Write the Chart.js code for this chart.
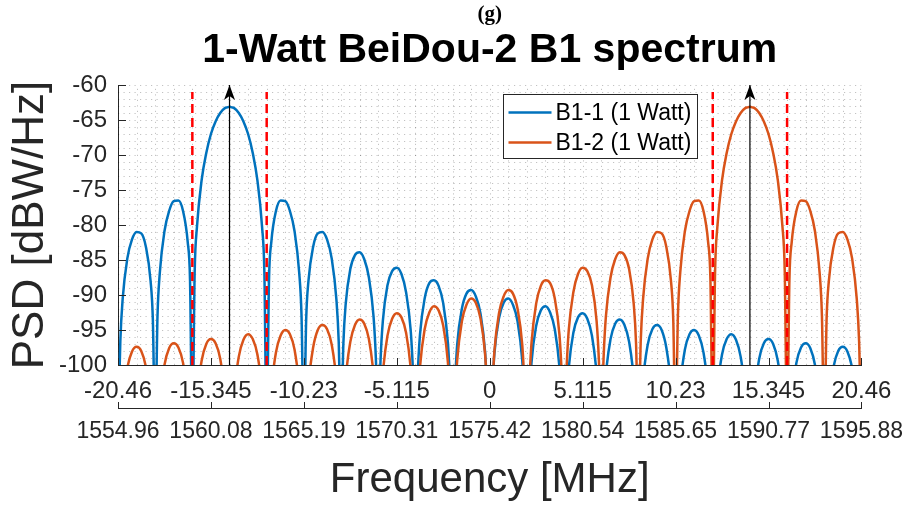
<!DOCTYPE html>
<html>
<head>
<meta charset="utf-8">
<title>1-Watt BeiDou-2 B1 spectrum</title>
<script src="https://cdn.jsdelivr.net/npm/chart.js@4.4.0/dist/chart.umd.min.js"></script>
<style>
  html, body { margin: 0; padding: 0; background: #fff; }
</style>
</head>
<body>
<canvas id="psdChart" width="913" height="507"></canvas>
<script>
// frequency offset from 1575.42 MHz (MHz); finer samples next to each null
const freqMHz = [
  -20.46, -20.332, -20.204, -19.949, -19.693, -19.437, -19.181, -18.926, -18.67, -18.542,
  -18.414, -18.286, -18.158, -17.903, -17.647, -17.391, -17.135, -16.88, -16.624, -16.496,
  -16.368, -16.24, -16.112, -15.857, -15.601, -15.345, -15.089, -14.834, -14.578, -14.45,
  -14.322, -14.194, -14.066, -13.811, -13.555, -13.299, -13.043, -12.788, -12.532, -12.404,
  -12.276, -12.148, -12.02, -11.765, -11.509, -11.253, -10.997, -10.742, -10.486, -10.358,
  -10.23, -10.102, -9.974, -9.719, -9.463, -9.207, -8.951, -8.696, -8.44, -8.312,
  -8.184, -8.056, -7.928, -7.673, -7.417, -7.161, -6.905, -6.65, -6.394, -6.266,
  -6.138, -6.01, -5.882, -5.627, -5.371, -5.115, -4.859, -4.604, -4.348, -4.22,
  -4.092, -3.964, -3.836, -3.581, -3.325, -3.069, -2.813, -2.558, -2.302, -2.174,
  -2.046, -1.918, -1.79, -1.535, -1.279, -1.023, -0.767, -0.512, -0.256, -0.128,
  0, 0.128, 0.256, 0.512, 0.767, 1.023, 1.279, 1.535, 1.79, 1.918,
  2.046, 2.174, 2.302, 2.558, 2.813, 3.069, 3.325, 3.581, 3.836, 3.964,
  4.092, 4.22, 4.348, 4.604, 4.859, 5.115, 5.371, 5.627, 5.882, 6.01,
  6.138, 6.266, 6.394, 6.65, 6.905, 7.161, 7.417, 7.673, 7.928, 8.056,
  8.184, 8.312, 8.44, 8.696, 8.951, 9.207, 9.463, 9.719, 9.974, 10.102,
  10.23, 10.358, 10.486, 10.742, 10.997, 11.253, 11.509, 11.765, 12.02, 12.148,
  12.276, 12.404, 12.532, 12.788, 13.043, 13.299, 13.555, 13.811, 14.066, 14.194,
  14.322, 14.45, 14.578, 14.834, 15.089, 15.345, 15.601, 15.857, 16.112, 16.24,
  16.368, 16.496, 16.624, 16.88, 17.135, 17.391, 17.647, 17.903, 18.158, 18.286,
  18.414, 18.542, 18.67, 18.926, 19.181, 19.437, 19.693, 19.949, 20.204, 20.332,
  20.46
];

// PSD in dBW/Hz, nulls written as -110 (below the axis)
const b11Psd = [
  -110, -96.6, -90.6, -84.8, -82.1, -81.0, -81.2, -83.1, -87.9, -93.5,
  -110, -93.0, -86.8, -80.9, -78.0, -76.6, -76.5, -78.0, -82.4, -87.8,
  -110, -86.7, -80.2, -73.6, -69.7, -67.0, -65.2, -64.0, -63.3, -63.2,
  -63.1, -63.2, -63.3, -64.0, -65.2, -67.0, -69.7, -73.6, -80.2, -86.7,
  -110, -87.8, -82.4, -78.0, -76.5, -76.6, -78.0, -80.9, -86.8, -93.0,
  -110, -93.5, -87.9, -83.1, -81.2, -81.0, -82.1, -84.8, -90.6, -96.6,
  -110, -97.0, -91.3, -86.3, -84.3, -83.9, -84.9, -87.5, -93.1, -99.1,
  -110, -99.4, -93.7, -88.6, -86.6, -86.1, -87.0, -89.6, -95.1, -101.1,
  -110, -101.3, -95.6, -90.5, -88.3, -87.9, -88.7, -91.2, -96.8, -102.7,
  -110, -102.9, -97.1, -92.0, -89.8, -89.3, -90.2, -92.6, -98.1, -104.1,
  -110, -104.2, -98.4, -93.3, -91.1, -90.5, -91.4, -93.8, -99.3, -105.2,
  -110, -105.4, -99.6, -94.4, -92.2, -91.6, -92.5, -94.9, -100.3, -106.3,
  -110, -106.4, -100.6, -95.4, -93.2, -92.6, -93.4, -95.8, -101.3, -107.2,
  -110, -107.3, -101.5, -96.3, -94.1, -93.5, -94.3, -96.7, -102.1, -108.0,
  -110, -108.1, -102.3, -97.1, -94.9, -94.3, -95.0, -97.5, -102.9, -108.8,
  -110, -108.9, -103.1, -97.8, -95.6, -95.0, -95.8, -98.2, -103.6, -109.5,
  -110, -109.6, -103.7, -98.5, -96.3, -95.6, -96.4, -98.8, -104.2, -110.1,
  -110, -110.2, -104.4, -99.1, -96.9, -96.3, -97.0, -99.4, -104.8, -110.7,
  -110, -110.8, -105.0, -99.7, -97.5, -96.9, -97.6, -100.0, -105.4, -111.3,
  -110, -111.3, -105.5, -100.3, -98.0, -97.4, -98.1, -100.5, -105.9, -111.8,
  -110
];

const b12Psd = [
  -110, -111.8, -105.9, -100.5, -98.1, -97.4, -98.0, -100.3, -105.5, -111.3,
  -110, -111.3, -105.4, -100.0, -97.6, -96.9, -97.5, -99.7, -105.0, -110.8,
  -110, -110.7, -104.8, -99.4, -97.0, -96.3, -96.9, -99.1, -104.4, -110.2,
  -110, -110.1, -104.2, -98.8, -96.4, -95.6, -96.3, -98.5, -103.7, -109.6,
  -110, -109.5, -103.6, -98.2, -95.8, -95.0, -95.6, -97.8, -103.1, -108.9,
  -110, -108.8, -102.9, -97.5, -95.0, -94.3, -94.9, -97.1, -102.3, -108.1,
  -110, -108.0, -102.1, -96.7, -94.3, -93.5, -94.1, -96.3, -101.5, -107.3,
  -110, -107.2, -101.3, -95.8, -93.4, -92.6, -93.2, -95.4, -100.6, -106.4,
  -110, -106.3, -100.3, -94.9, -92.5, -91.6, -92.2, -94.4, -99.6, -105.4,
  -110, -105.2, -99.3, -93.8, -91.4, -90.5, -91.1, -93.3, -98.4, -104.2,
  -110, -104.1, -98.1, -92.6, -90.2, -89.3, -89.8, -92.0, -97.1, -102.9,
  -110, -102.7, -96.8, -91.2, -88.7, -87.9, -88.3, -90.5, -95.6, -101.3,
  -110, -101.1, -95.1, -89.6, -87.0, -86.1, -86.6, -88.6, -93.7, -99.4,
  -110, -99.1, -93.1, -87.5, -84.9, -83.9, -84.3, -86.3, -91.3, -97.0,
  -110, -96.6, -90.6, -84.8, -82.1, -81.0, -81.2, -83.1, -87.9, -93.5,
  -110, -93.0, -86.8, -80.9, -78.0, -76.6, -76.5, -78.0, -82.4, -87.8,
  -110, -86.7, -80.2, -73.6, -69.7, -67.0, -65.2, -64.0, -63.3, -63.2,
  -63.1, -63.2, -63.3, -64.0, -65.2, -67.0, -69.7, -73.6, -80.2, -86.7,
  -110, -87.8, -82.4, -78.0, -76.5, -76.6, -78.0, -80.9, -86.8, -93.0,
  -110, -93.5, -87.9, -83.1, -81.2, -81.0, -82.1, -84.8, -90.6, -96.6,
  -110
];

const seriesNames = ['B1-1 (1 Watt)', 'B1-2 (1 Watt)'];
const seriesColors = ['#0072BD', '#D95319'];

const offsetTicks = [-20.46, -15.345, -10.23, -5.115, 0, 5.115, 10.23, 15.345, 20.46];
const offsetLabels = ['-20.46', '-15.345', '-10.23', '-5.115', '0', '5.115', '10.23', '15.345', '20.46'];
const absFreqLabels = ['1554.96', '1560.08', '1565.19', '1570.31', '1575.42', '1580.54', '1585.65', '1590.77', '1595.88'];
const yTicks = [-100, -95, -90, -85, -80, -75, -70, -65, -60];

const carrierFreqs = [-14.322, 14.322];               // black arrows
const bandEdges = [-16.368, -12.276, 12.276, 16.368]; // red dashed lines
const edgeTop = -61;

const figLabel = '(g)';
const figTitle = '1-Watt BeiDou-2 B1 spectrum';
const AXIS = '#262626';

function toPoints(ys) {
  return ys.map((v, i) => ({ x: freqMHz[i], y: v }));
}

function vline(x, top, color, width, dash, order) {
  return {
    data: [{ x: x, y: -100 }, { x: x, y: top }],
    borderColor: color,
    borderWidth: width,
    borderDash: dash,
    pointRadius: 0,
    order: order,
    clip: 0
  };
}

const datasets = [
  { label: seriesNames[0], data: toPoints(b11Psd), borderColor: seriesColors[0], order: 4 },
  { label: seriesNames[1], data: toPoints(b12Psd), borderColor: seriesColors[1], order: 3 }
].map(d => Object.assign(d, {
  borderWidth: 2.5, pointRadius: 0, cubicInterpolationMode: 'monotone', clip: 0
}));

for (let e of bandEdges) datasets.push(vline(e, edgeTop, '#ff0000', 2.5, [9, 5], 2));
for (let c of carrierFreqs) datasets.push(vline(c, -60, '#000', 1.2, [], 1));

// grid, inward ticks, arrow heads, titles and legend like the MATLAB figure
const matlabAxes = {
  id: 'matlabAxes',
  beforeDatasetsDraw(chart) {
    const { ctx, chartArea: a, scales: { x, y } } = chart;
    ctx.save();
    ctx.lineWidth = 1;
    ctx.strokeStyle = 'rgba(0,0,0,0.24)';
    ctx.setLineDash([1.2, 4.3]);
    ctx.beginPath();
    for (let i = 0; i < offsetTicks.length - 1; i++) {
      const step = (offsetTicks[i + 1] - offsetTicks[i]) / 5;
      for (let j = 0; j < 5; j++) {
        if (i === 0 && j === 0) continue;
        const px = Math.round(x.getPixelForValue(offsetTicks[i] + j * step)) + 0.5;
        ctx.moveTo(px, a.bottom);
        ctx.lineTo(px, a.top);
      }
    }
    const last = Math.round(x.getPixelForValue(offsetTicks[offsetTicks.length - 1])) - 0.5;
    ctx.moveTo(last, a.bottom);
    ctx.lineTo(last, a.top);
    for (let i = 0; i < yTicks.length - 1; i++) {
      const step = (yTicks[i + 1] - yTicks[i]) / 5;
      for (let j = 1; j <= 5; j++) {
        const py = Math.round(y.getPixelForValue(yTicks[i] + j * step)) + 0.5;
        ctx.moveTo(a.left, py);
        ctx.lineTo(a.right, py);
      }
    }
    ctx.stroke();
    ctx.restore();
  },
  afterDatasetsDraw(chart) {
    const { ctx, chartArea: a, scales: { x, x2, y } } = chart;
    ctx.save();
    ctx.strokeStyle = AXIS;
    ctx.lineWidth = 1;
    ctx.beginPath();
    for (let v of yTicks) {
      const py = Math.round(y.getPixelForValue(v)) + 0.5;
      ctx.moveTo(a.left, py);
      ctx.lineTo(a.left + 8, py);
    }
    for (let v of offsetTicks) {
      const px = Math.round(x.getPixelForValue(v)) + 0.5;
      ctx.moveTo(px, a.bottom);
      ctx.lineTo(px, a.bottom - 7);
      const px2 = Math.round(x2.getPixelForValue(v)) + 0.5;
      ctx.moveTo(px2, x2.top);
      ctx.lineTo(px2, x2.top - 6);
    }
    ctx.stroke();

    // arrow heads
    ctx.fillStyle = '#000';
    for (let c of carrierFreqs) {
      const px = x.getPixelForValue(c);
      const tip = y.getPixelForValue(-60);
      ctx.beginPath();
      ctx.moveTo(px, tip);
      ctx.lineTo(px + 5.5, tip + 15);
      ctx.lineTo(px, tip + 11);
      ctx.lineTo(px - 5.5, tip + 15);
      ctx.closePath();
      ctx.fill();
    }

    // titles, centred over the axes
    const cx = (a.left + a.right) / 2;
    ctx.textAlign = 'center';
    ctx.textBaseline = 'middle';
    ctx.fillStyle = '#000';
    ctx.font = 'bold 21px "Liberation Serif", serif';
    ctx.fillText(figLabel, cx, 15);
    ctx.font = 'bold 41px "Liberation Sans", Arial, sans-serif';
    ctx.fillText(figTitle, cx, 51);

    // legend box
    ctx.textAlign = 'left';
    ctx.font = '23px "Liberation Sans"';
    const tw = Math.max(...seriesNames.map(t => ctx.measureText(t).width));
    const bx = Math.round(a.left + 385) + 0.5;
    const by = Math.round(a.top + 9) + 0.5;
    const bw = Math.round(52 + tw + 6);
    const bh = 64;
    ctx.fillStyle = '#fff';
    ctx.fillRect(bx, by, bw, bh);
    ctx.strokeStyle = AXIS;
    ctx.lineWidth = 1;
    ctx.strokeRect(bx, by, bw, bh);
    seriesNames.forEach((name, i) => {
      const ry = by + 18 + i * 30;
      ctx.strokeStyle = seriesColors[i];
      ctx.lineWidth = 2.5;
      ctx.beginPath();
      ctx.moveTo(bx + 5, ry);
      ctx.lineTo(bx + 48, ry);
      ctx.stroke();
      ctx.fillStyle = '#000';
      ctx.fillText(name, bx + 52, ry + 1);
    });
    ctx.restore();
  }
};

Chart.defaults.font.family = '"Liberation Sans", Arial, sans-serif';

new Chart(document.getElementById('psdChart'), {
  type: 'line',
  data: { datasets: datasets },
  options: {
    responsive: false,
    animation: false,
    events: [],
    layout: { padding: { left: 0, right: 49, top: 85, bottom: 0 } },
    plugins: {
      legend: { display: false },
      tooltip: { enabled: false },
      title: { display: false }
    },
    scales: {
      x: {
        type: 'linear', position: 'bottom', min: -20.46, max: 20.46,
        grid: { display: false, drawTicks: false },
        border: { display: true, color: AXIS, width: 1 },
        afterBuildTicks: s => { s.ticks = offsetTicks.map(v => ({ value: v })); },
        afterFit: s => { s.height = 43; },
        ticks: {
          autoSkip: false, maxRotation: 0, padding: 12, color: AXIS,
          font: { size: 24 },
          callback: (v, i) => offsetLabels[i]
        }
      },
      x2: {
        type: 'linear', position: 'bottom', min: -20.46, max: 20.46,
        grid: { display: false, drawTicks: false },
        border: { display: true, color: AXIS, width: 1 },
        afterBuildTicks: s => { s.ticks = offsetTicks.map(v => ({ value: v })); },
        afterFit: s => { s.height = 99; },
        ticks: {
          autoSkip: false, maxRotation: 0, padding: 10, color: AXIS,
          font: { size: 23 },
          callback: (v, i) => absFreqLabels[i]
        },
        title: {
          display: true, text: 'Frequency [MHz]', color: AXIS,
          font: { size: 42 }, padding: { top: 0, bottom: 1 }
        }
      },
      y: {
        type: 'linear', min: -100, max: -60,
        grid: { display: false, drawTicks: false },
        border: { display: true, color: AXIS, width: 1 },
        afterBuildTicks: s => { s.ticks = yTicks.map(v => ({ value: v })); },
        afterFit: s => { s.width = 118; },
        ticks: { padding: 11, color: AXIS, font: { size: 24 }, callback: v => String(v) },
        title: {
          display: true, text: 'PSD [dBW/Hz]', color: AXIS,
          font: { size: 44 }, padding: { top: 4, bottom: 0 }
        }
      }
    }
  },
  plugins: [matlabAxes]
});
</script>
</body>
</html>
